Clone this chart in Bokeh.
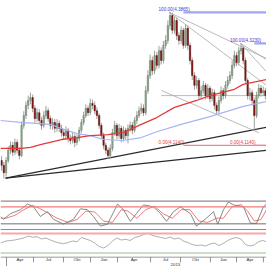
from bokeh.plotting import figure
from bokeh.layouts import column
from bokeh.models import Range1d, Span, ColumnDataSource
from bokeh.embed import file_html
from bokeh.resources import INLINE
from bokeh.core.properties import value

# ---------------- data ----------------
first_open = 4.083
close = [4.073, 4.058, 4.083, 4.104, 4.114, 4.100, 4.120, 4.104, 4.093, 4.155,
         4.175, 4.196, 4.206, 4.212, 4.190, 4.169, 4.181, 4.165, 4.155, 4.175,
         4.185, 4.169, 4.155, 4.161, 4.149, 4.159, 4.149, 4.140, 4.134, 4.145,
         4.128, 4.124, 4.132, 4.120, 4.128, 4.145, 4.161, 4.175, 4.190, 4.181,
         4.200, 4.196, 4.185, 4.175, 4.155, 4.134, 4.114, 4.104, 4.093, 4.108,
         4.140, 4.155, 4.134, 4.149, 4.128, 4.145, 4.134, 4.149, 4.155, 4.145,
         4.165, 4.175, 4.185, 4.190, 4.181, 4.226, 4.257, 4.288, 4.267, 4.298,
         4.278, 4.308, 4.288, 4.319, 4.329, 4.360, 4.380, 4.350, 4.370, 4.339,
         4.329, 4.350, 4.319, 4.354, 4.319, 4.288, 4.257, 4.237, 4.247, 4.216,
         4.226, 4.237, 4.216, 4.231, 4.210, 4.222, 4.196, 4.185, 4.206, 4.226,
         4.216, 4.237, 4.247, 4.257, 4.278, 4.298, 4.284, 4.308, 4.313, 4.288,
         4.247, 4.216, 4.222, 4.206, 4.175, 4.216, 4.231, 4.222, 4.226, 4.216]
high = [4.092, 4.080, 4.090, 4.112, 4.122, 4.121, 4.128, 4.126, 4.110, 4.163,
        4.184, 4.204, 4.216, 4.222, 4.218, 4.196, 4.190, 4.188, 4.172, 4.184,
        4.195, 4.191, 4.175, 4.170, 4.168, 4.168, 4.165, 4.156, 4.148, 4.153,
        4.150, 4.136, 4.140, 4.138, 4.136, 4.152, 4.168, 4.183, 4.198, 4.196,
        4.210, 4.208, 4.204, 4.192, 4.180, 4.160, 4.140, 4.120, 4.110, 4.116,
        4.148, 4.164, 4.160, 4.158, 4.155, 4.153, 4.150, 4.157, 4.163, 4.162,
        4.172, 4.184, 4.194, 4.200, 4.198, 4.236, 4.268, 4.300, 4.296, 4.308,
        4.305, 4.318, 4.315, 4.328, 4.340, 4.370, 4.388, 4.386, 4.378, 4.376,
        4.346, 4.358, 4.355, 4.362, 4.360, 4.325, 4.294, 4.264, 4.256, 4.252,
        4.236, 4.246, 4.242, 4.240, 4.236, 4.230, 4.228, 4.202, 4.214, 4.235,
        4.232, 4.246, 4.256, 4.266, 4.288, 4.308, 4.305, 4.316, 4.323, 4.318,
        4.294, 4.252, 4.232, 4.228, 4.212, 4.224, 4.240, 4.238, 4.235, 4.232]
low = [4.062, 4.046, 4.050, 4.078, 4.096, 4.092, 4.094, 4.097, 4.085, 4.090,
       4.148, 4.168, 4.188, 4.198, 4.182, 4.160, 4.162, 4.157, 4.146, 4.150,
       4.168, 4.162, 4.147, 4.146, 4.140, 4.142, 4.141, 4.132, 4.126, 4.127,
       4.120, 4.116, 4.118, 4.110, 4.114, 4.122, 4.140, 4.155, 4.170, 4.174,
       4.176, 4.188, 4.178, 4.168, 4.148, 4.127, 4.106, 4.096, 4.086, 4.088,
       4.102, 4.134, 4.126, 4.128, 4.120, 4.122, 4.126, 4.118, 4.142, 4.137,
       4.140, 4.158, 4.170, 4.178, 4.174, 4.176, 4.220, 4.250, 4.258, 4.260,
       4.270, 4.272, 4.280, 4.282, 4.312, 4.322, 4.352, 4.342, 4.343, 4.330,
       4.320, 4.322, 4.312, 4.314, 4.310, 4.280, 4.248, 4.228, 4.230, 4.208,
       4.208, 4.220, 4.208, 4.210, 4.202, 4.204, 4.188, 4.178, 4.180, 4.200,
       4.208, 4.210, 4.230, 4.240, 4.250, 4.272, 4.276, 4.278, 4.300, 4.280,
       4.240, 4.208, 4.206, 4.196, 4.145, 4.170, 4.210, 4.214, 4.215, 4.208]

ma_red_x = [-0.5, 9, 13, 18, 27, 34, 40, 48, 55, 63, 70, 78, 88, 94, 105, 109, 119.5]
ma_red_y = [4.108, 4.108, 4.110, 4.116, 4.126, 4.130, 4.134, 4.136, 4.140, 4.157,
            4.171, 4.192, 4.206, 4.216, 4.229, 4.239, 4.249]
ma_blue_x = [-0.5, 8.5, 22, 26.5, 34, 40, 46, 55, 63, 70, 81, 94, 109, 119.5]
ma_blue_y = [4.165, 4.161, 4.157, 4.149, 4.138, 4.134, 4.126, 4.124, 4.130, 4.142,
             4.157, 4.173, 4.194, 4.204]

# trend / fan lines (x in bar index, y in price)
trend_up_x, trend_up_y = [1.8, 119.5], [4.047, 4.151]
trend_lo_x, trend_lo_y = [1.8, 119.5], [4.047, 4.104]
fan_lines = [([75.7, 119.5], [4.3865, 4.292]),
             ([75.7, 119.5], [4.3865, 4.237]),
             ([107.8, 119.5], [4.323, 4.290]),
             ([107.8, 119.5], [4.323, 4.265]),
             ([72.1, 116.0], [4.2265, 4.140]),
             ([72.0, 119.5], [4.216, 4.216])]

fib_hi = [(82, 4.3865, 70.8, "100.00(4.3865)"), (114, 4.3230, 103.0, "100.00(4.3230)")]
fib_lo = [(82, 4.1140, 70.8, "0.00(4.1140)"), (114, 4.1140, 103.0, "0.00(4.1140)")]

stoch_k_x = [-0.5, 0.9, 4, 8.5, 11.7, 14.4, 17.5, 20.7, 23.4, 27.9, 32.4, 35.6, 38.7,
             41.4, 44.6, 47.8, 52.3, 55, 58.1, 60.8, 64, 68.5, 71.7, 74.4, 77.5, 80.7,
             85.2, 87.9, 92.4, 95.6, 97.5, 100.1, 102.3, 104.6, 109.1, 112.3, 115,
             118.1, 119.5]
stoch_k = [46, 36, 56, 70, 90, 80, 46, 63, 36, 19, 36, 73, 70, 46, 12, 19, 90, 70, 29,
           56, 87, 80, 56, 29, 63, 80, 56, 12, 40, 63, 19, 70, 97, 87, 80, 22, 22, 80, 90]
stoch_d_x = [-0.5, 2, 6, 10, 14, 17, 21, 25, 30, 34, 38, 42, 46, 50, 54, 57, 61, 65,
             69, 73, 77, 81, 85, 89, 93, 97, 100, 104, 108, 111, 114, 117, 119.5]
stoch_d = [40, 40, 50, 70, 85, 75, 58, 40, 25, 35, 65, 62, 30, 25, 70, 65, 40, 70, 82,
           55, 40, 70, 70, 30, 25, 40, 40, 80, 88, 65, 30, 35, 70]

osc_x = [-0.5, 2, 4, 6, 8, 10, 12, 14, 16, 18, 20, 22, 24, 26, 28, 30, 32, 34, 36, 38,
         40, 42, 44, 46, 48, 50, 52, 54, 56, 58, 60, 62, 64, 66, 68, 70, 72, 74, 76,
         78, 80, 82, 84, 86, 88, 90, 92, 94, 96, 98, 100, 102, 104, 106, 108, 110,
         112, 114, 116, 118, 119.5]
osc = [50, 58, 60, 62, 66, 70, 78, 73, 75, 66, 70, 62, 55, 50, 47, 52, 58, 55, 72, 66,
       60, 50, 36, 30, 40, 58, 70, 62, 65, 60, 72, 76, 84, 90, 80, 76, 72, 68, 74, 66,
       70, 58, 52, 44, 40, 42, 38, 46, 50, 40, 48, 60, 68, 72, 66, 44, 38, 42, 56, 60, 54]

sep_x = [2.2, 14.4, 27.9, 40.1, 52.3, 67.2, 80.7, 94.2, 106.0, 118.1]
month_labels = ["Apr", "Jul", "Okt", "Jan", "Apr", "Jul", "Okt", "Jan", "Apr"]
year_label, year_x = "2013", 78.4

# ---------------- drawing ----------------
N = len(close)
opens = [first_open] + close[:-1]
xs = list(range(N))
xr = Range1d(-0.5, N - 0.5)
FONT = value("Liberation Sans")


def mk(h, yr):
    f = figure(width=266, height=h, x_range=xr, y_range=yr, output_backend="svg",
               toolbar_location=None, x_axis_location=None, y_axis_location=None,
               min_border=0, outline_line_color=None,
               background_fill_color="white", border_fill_color="white")
    for g in f.grid:
        g.visible = False
    return f


p = mk(199, Range1d(4.003, 4.411))

# trend lines behind candles
p.line(trend_up_x, trend_up_y, color="#2a2a2a", line_width=1.3)
p.line(trend_lo_x, trend_lo_y, color="#2a2a2a", line_width=1.3)
for fx, fy in fan_lines:
    p.line(fx, fy, color="#a8a8a8", line_width=0.8)

inc = [c >= o for c, o in zip(close, opens)]
src = ColumnDataSource(dict(
    x=xs, o=opens, c=close, h=high, l=low,
    top=[max(a, b) for a, b in zip(opens, close)],
    bot=[min(a, b) for a, b in zip(opens, close)],
    fill=["#93ad93" if k else "#8b1a1a" for k in inc],
    lc=["#5f7a5f" if k else "#5a0a0a" for k in inc]))
p.segment(x0="x", y0="h", x1="x", y1="l", source=src, color="#a0a0a0", line_width=1)
p.vbar(x="x", top="top", bottom="bot", width=0.62, source=src,
       fill_color="fill", line_color="lc", line_width=0.5)

p.line(ma_blue_x, ma_blue_y, color="#a9b3f2", line_width=1.2)
p.line(ma_red_x, ma_red_y, color="#e23a3a", line_width=1.3)

for x0, lvl, tx, lab in fib_hi:
    p.line([x0, N - 0.5], [lvl, lvl], color="#a3a6f5", line_width=2.2)
    p.text([tx], [lvl + 0.001], text=[lab], text_font=FONT, text_font_size="4.6px",
           text_color="#3a3ad0", text_baseline="bottom")
for x0, lvl, tx, lab in fib_lo:
    p.line([x0, N - 0.5], [lvl, lvl], color="#f08a8a", line_width=1.4)
    p.text([tx], [lvl + 0.001], text=[lab], text_font=FONT, text_font_size="4.6px",
           text_color="#e04040", text_baseline="bottom")

# stochastic panel
s = mk(31, Range1d(-3.5, 106))
for lvl, col, w in [(100, "#8c8c8c", 1.2), (80, "#f27a7a", 1.4), (20, "#6e6e6e", 1.0),
                    (0, "#8c8c8c", 1.2)]:
    s.add_layout(Span(location=lvl, dimension="width", line_color=col, line_width=w))
s.line(stoch_d_x, stoch_d, color="#f06a6a", line_width=0.9)
s.line(stoch_k_x, stoch_k, color="#7a7a7a", line_width=0.9)

# oscillator panel
r = mk(25, Range1d(0, 100))
r.add_layout(Span(location=88, dimension="width", line_color="#f5aaaa", line_width=1.8))
r.add_layout(Span(location=10, dimension="width", line_color="#c9dfc2", line_width=2.0))
r.line(osc_x, osc, color="#9a9a9a", line_width=0.8)

# time axis strip
a = mk(11, Range1d(0, 11))
a.line([-0.5, N - 0.5], [10.5, 10.5], color="#7a7a7a", line_width=1)
a.segment(x0=sep_x, y0=[10.5] * len(sep_x), x1=sep_x,
          y1=[0] + [5.2] * (len(sep_x) - 1), color="#7a7a7a", line_width=0.8)
mids = [(sep_x[i] + sep_x[i + 1]) / 2 for i in range(len(sep_x) - 1)]
a.text(mids, [7.8] * len(mids), text=month_labels, text_font=FONT,
       text_font_size="4.4px", text_color="#333333", text_align="center",
       text_baseline="middle")
a.text([year_x], [3.4], text=[year_label], text_font=FONT, text_font_size="4.4px",
       text_color="#333333", text_align="center", text_baseline="middle")

layout = column(p, s, r, a, spacing=0)
open("out.html", "w").write(file_html(layout, INLINE))
